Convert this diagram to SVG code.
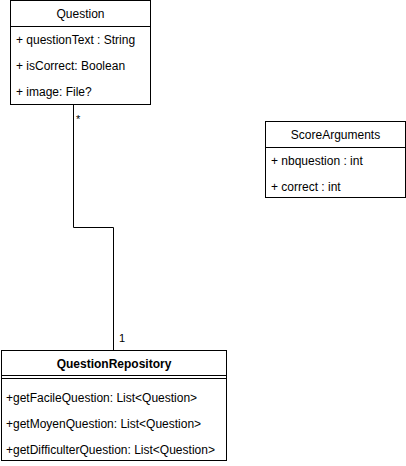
<svg xmlns="http://www.w3.org/2000/svg" width="406" height="466" viewBox="0 0 406 466">
<style>
.box{fill:#fff;stroke:#000;stroke-width:1}
.ln{stroke:#000;stroke-width:1;fill:none}
text{font-family:"Liberation Sans",Arial,sans-serif;font-size:12px;fill:#000}
.c{text-anchor:middle}
.b{font-weight:bold}
.lbl{font-size:11px}
</style>
<rect width="406" height="466" fill="#fff"/>
<g id="connectors">
<path class="ln" d="M73.5 104.5 V227.5 H113.5 V350.5"/>
<text class="lbl" x="76" y="123">*</text>
<text class="lbl" x="119" y="342">1</text>
</g>
<g id="Question">
<rect class="box" x="10.5" y="0.5" width="140" height="104"/>
<line class="ln" x1="10.5" y1="26.5" x2="150.5" y2="26.5"/>
<text class="c" x="80.5" y="18">Question</text>
<text x="16" y="44">+ questionText : String</text>
<text x="16" y="70">+ isCorrect: Boolean</text>
<text x="16" y="96">+ image: File?</text>
</g>
<g id="ScoreArguments">
<rect class="box" x="265.5" y="121.5" width="140" height="76"/>
<line class="ln" x1="265.5" y1="147.5" x2="405.5" y2="147.5"/>
<text class="c" x="335.5" y="139">ScoreArguments</text>
<text x="271" y="165">+ nbquestion : int</text>
<text x="271" y="191">+ correct : int</text>
</g>
<g id="QuestionRepository">
<rect class="box" x="1.5" y="350.5" width="225" height="110"/>
<line class="ln" x1="1.5" y1="375.5" x2="226.5" y2="375.5"/>
<line class="ln" x1="1.5" y1="378.5" x2="226.5" y2="378.5"/>
<text class="c b" x="114" y="368">QuestionRepository</text>
<text x="6" y="402">+getFacileQuestion: List&lt;Question&gt;</text>
<text x="6" y="428">+getMoyenQuestion: List&lt;Question&gt;</text>
<text x="6" y="454">+getDifficulterQuestion: List&lt;Question&gt;</text>
</g>
</svg>
